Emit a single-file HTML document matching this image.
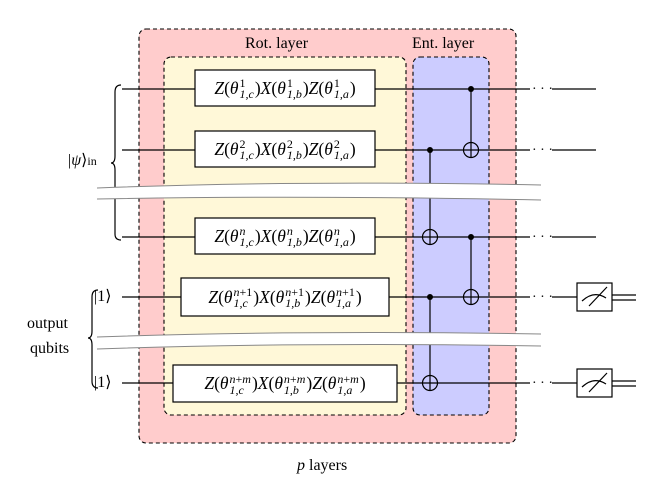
<!DOCTYPE html>
<html><head><meta charset="utf-8"><style>
body{margin:0;background:#fff;width:658px;height:495px;overflow:hidden;position:relative;font-family:"Liberation Serif",serif;}
svg{position:absolute;left:0;top:0}
.g{position:absolute;display:flex;align-items:center;justify-content:center;font-style:italic;font-size:17.5px;color:#000;white-space:nowrap}
.u{font-style:normal}
.s{display:inline-flex;flex-direction:column;line-height:11px;font-size:12px;vertical-align:middle;margin:0 1px;position:relative;top:1px}
.s i{font-style:normal}
.t{position:absolute;font-size:16px;white-space:nowrap}
</style></head><body>
<svg width="658" height="495" viewBox="0 0 658 495">
<rect x="139" y="29" width="377" height="414" rx="7" fill="#ffcccc" stroke="#000" stroke-dasharray="4,3" stroke-width="1.1"/>
<rect x="164" y="57" width="242" height="358" rx="7" fill="#fff8d8" stroke="#000" stroke-dasharray="4,3" stroke-width="1.1"/>
<rect x="413" y="57" width="76" height="358" rx="7" fill="#ccccff" stroke="#000" stroke-dasharray="4,3" stroke-width="1.1"/>
<g stroke="#000" stroke-width="1.2" fill="none">
<line x1="122" y1="89" x2="530" y2="89"/><line x1="552" y1="89" x2="596" y2="89"/>
<line x1="122" y1="150" x2="530" y2="150"/><line x1="552" y1="150" x2="596" y2="150"/>
<line x1="122" y1="237" x2="530" y2="237"/><line x1="552" y1="237" x2="596" y2="237"/>
<line x1="122" y1="297" x2="530" y2="297"/><line x1="552" y1="297" x2="577" y2="297"/>
<line x1="122" y1="383" x2="530" y2="383"/><line x1="552" y1="383" x2="577" y2="383"/>
<line x1="471" y1="89" x2="471" y2="158"/>
<line x1="430" y1="150" x2="430" y2="245"/>
<line x1="471" y1="237" x2="471" y2="305"/>
<line x1="430" y1="297" x2="430" y2="391"/>
<circle cx="471" cy="150" r="7.5"/><circle cx="430" cy="237" r="7.5"/>
<circle cx="471" cy="297" r="7.5"/><circle cx="430" cy="383" r="7.5"/>
<rect x="577" y="283" width="35" height="28"/><rect x="577" y="369" width="35" height="28"/>
<path d="M582 301 Q594 290 606 298 M589 306 L607 287"/>
<path d="M582 387 Q594 376 606 384 M589 392 L607 373"/>
<path d="M612 295 H636 M612 300 H636 M612 381 H636 M612 386 H636"/>
<path d="M121 85 Q115 85 115 92 V156 Q115 163 111 163 Q115 163 115 170 V234 Q115 240 121 240"/>
<path d="M98 290 Q92 290 92 297 V331 Q92 338 88 338 Q92 338 92 345 V381 Q92 388 98 388"/>
</g>
<g fill="#000"><circle cx="471" cy="89" r="3"/><circle cx="430" cy="150" r="3"/><circle cx="471" cy="237" r="3"/><circle cx="430" cy="297" r="3"/>
<g font-size="14"><text x="532" y="93">· · ·</text><text x="532" y="154">· · ·</text><text x="532" y="241">· · ·</text><text x="532" y="301">· · ·</text><text x="532" y="387">· · ·</text></g></g>
<path d="M97 188 Q300 180 541 185 L541 200 Q300 195 97 199 Z" fill="#fff" stroke="none"/>
<path d="M97 188 Q300 180 541 185 M97 199 Q300 195 541 200" fill="none" stroke="#888" stroke-width="1"/>
<path d="M97 337 Q300 330 541 334 L541 346 Q300 342 97 349 Z" fill="#fff" stroke="none"/>
<path d="M97 337 Q300 330 541 334 M97 349 Q300 342 541 346" fill="none" stroke="#888" stroke-width="1"/>
<g fill="#fff" stroke="#000" stroke-width="1.2">
<rect x="195" y="70" width="180" height="36"/><rect x="195" y="131" width="180" height="36"/>
<rect x="195" y="218" width="180" height="36"/><rect x="181" y="278" width="208" height="38"/>
<rect x="173" y="365" width="224" height="37"/></g>
</svg>
<div class="g" style="left:195px;top:70px;width:180px;height:36px">Z<span class="u">(</span>θ<span class="s"><i>1</i><span>1,c</span></span><span class="u">)</span>X<span class="u">(</span>θ<span class="s"><i>1</i><span>1,b</span></span><span class="u">)</span>Z<span class="u">(</span>θ<span class="s"><i>1</i><span>1,a</span></span><span class="u">)</span></div>
<div class="g" style="left:195px;top:131px;width:180px;height:36px">Z<span class="u">(</span>θ<span class="s"><i>2</i><span>1,c</span></span><span class="u">)</span>X<span class="u">(</span>θ<span class="s"><i>2</i><span>1,b</span></span><span class="u">)</span>Z<span class="u">(</span>θ<span class="s"><i>2</i><span>1,a</span></span><span class="u">)</span></div>
<div class="g" style="left:195px;top:218px;width:180px;height:36px">Z<span class="u">(</span>θ<span class="s"><span>n</span><span>1,c</span></span><span class="u">)</span>X<span class="u">(</span>θ<span class="s"><span>n</span><span>1,b</span></span><span class="u">)</span>Z<span class="u">(</span>θ<span class="s"><span>n</span><span>1,a</span></span><span class="u">)</span></div>
<div class="g" style="left:181px;top:278px;width:208px;height:38px">Z<span class="u">(</span>θ<span class="s"><span>n<i>+1</i></span><span>1,c</span></span><span class="u">)</span>X<span class="u">(</span>θ<span class="s"><span>n<i>+1</i></span><span>1,b</span></span><span class="u">)</span>Z<span class="u">(</span>θ<span class="s"><span>n<i>+1</i></span><span>1,a</span></span><span class="u">)</span></div>
<div class="g" style="left:173px;top:365px;width:224px;height:37px">Z<span class="u">(</span>θ<span class="s"><span>n<i>+</i>m</span><span>1,c</span></span><span class="u">)</span>X<span class="u">(</span>θ<span class="s"><span>n<i>+</i>m</span><span>1,b</span></span><span class="u">)</span>Z<span class="u">(</span>θ<span class="s"><span>n<i>+</i>m</span><span>1,a</span></span><span class="u">)</span></div>
<div class="t" style="left:245px;top:35px">Rot. layer</div>
<div class="t" style="left:412px;top:35px">Ent. layer</div>
<div class="t" style="left:297px;top:457px"><i>p</i> layers</div>
<div class="t" style="left:68px;top:150px">|<i>ψ</i>⟩<span style="font-size:12px">in</span></div>
<div class="t" style="left:94px;top:286px">|1⟩</div>
<div class="t" style="left:94px;top:372px">|1⟩</div>
<div class="t" style="left:27px;top:315px">output</div>
<div class="t" style="left:30px;top:340px">qubits</div>
</body></html>
